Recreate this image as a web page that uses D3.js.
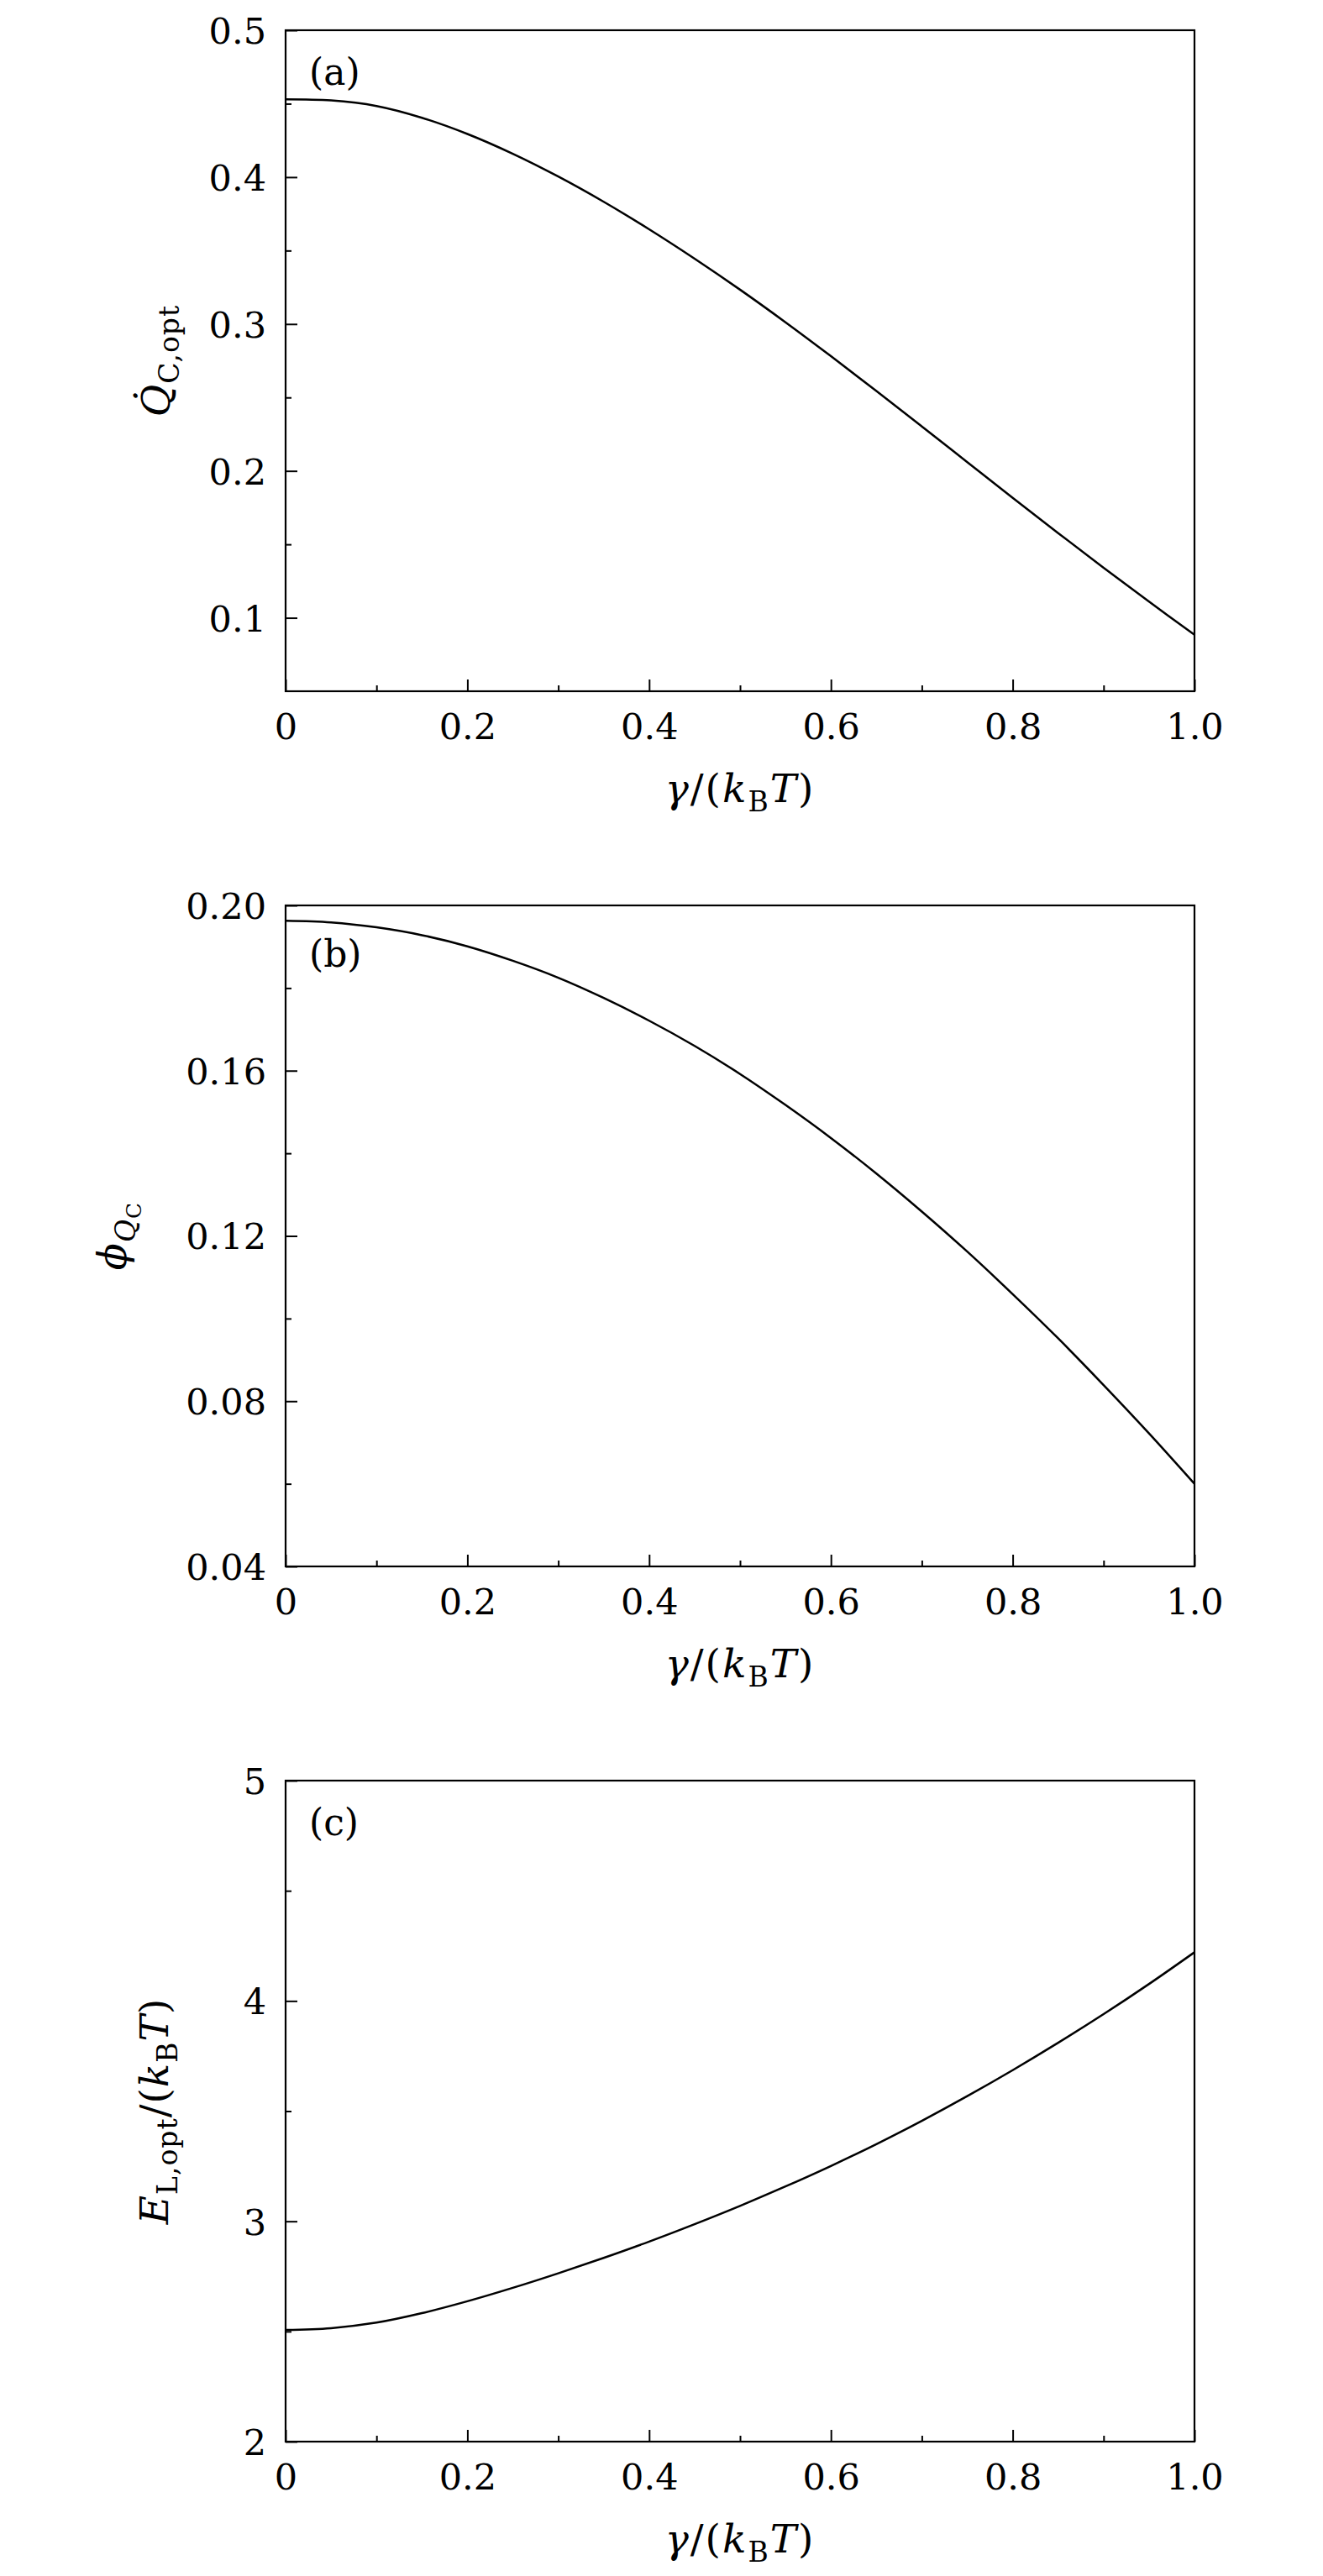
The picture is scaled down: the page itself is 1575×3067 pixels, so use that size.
<!DOCTYPE html>
<html>
<head>
<meta charset="utf-8">
<script src="https://cdn.jsdelivr.net/npm/d3@7"></script>
<style>
body { margin: 0; background: #fff; }
text { font-family: "DejaVu Serif", serif; fill: #000; }
</style>
</head>
<body>
<script>
var WIDTH = 1575;
var HEIGHT = 3067;
var LEFT = 340;
var PLOT_W = 1082;
var PLOT_H = 787;
var TOPS = [36, 1078, 2120];

// gamma/(kB T)
var gamma = [0, 0.05, 0.1, 0.15, 0.2, 0.25, 0.3, 0.35, 0.4, 0.45, 0.5,
             0.55, 0.6, 0.65, 0.7, 0.75, 0.8, 0.85, 0.9, 0.95, 1.0];

// (a) Q_C,opt
var qcOpt = [0.4530, 0.4522, 0.4484, 0.4404, 0.4294, 0.4159, 0.4004, 0.3832, 0.3645, 0.3445, 0.3234,
             0.3012, 0.2781, 0.2544, 0.2303, 0.2060, 0.1817, 0.1577, 0.1341, 0.1110, 0.0884];

// (b) phi_Qc
var phiQc = [0.1963, 0.1959, 0.1947, 0.1928, 0.1901, 0.1866, 0.1825, 0.1776, 0.1721, 0.1660, 0.1592,
             0.1517, 0.1437, 0.1351, 0.1259, 0.1162, 0.1059, 0.0952, 0.0839, 0.0722, 0.0600];

// (c) E_L,opt/(kB T)
var eLOpt = [2.507, 2.515, 2.540, 2.583, 2.637, 2.698, 2.764, 2.834, 2.908, 2.987, 3.070,
             3.158, 3.251, 3.350, 3.456, 3.568, 3.686, 3.810, 3.940, 4.077, 4.221];

var xTicks = [0, 0.2, 0.4, 0.6, 0.8, 1.0];
var xMinor = [0.1, 0.3, 0.5, 0.7, 0.9];
var xLabels = ["0", "0.2", "0.4", "0.6", "0.8", "1.0"];

var yDomA = [0.05, 0.5];
var yTicksA = [0.1, 0.2, 0.3, 0.4, 0.5];
var yMinorA = [0.15, 0.25, 0.35, 0.45];
var yLabelsA = ["0.1", "0.2", "0.3", "0.4", "0.5"];

var yDomB = [0.04, 0.20];
var yTicksB = [0.04, 0.08, 0.12, 0.16, 0.20];
var yMinorB = [0.06, 0.10, 0.14, 0.18];
var yLabelsB = ["0.04", "0.08", "0.12", "0.16", "0.20"];

var yDomC = [2, 5];
var yTicksC = [2, 3, 4, 5];
var yMinorC = [2.5, 3.5, 4.5];
var yLabelsC = ["2", "3", "4", "5"];

// title pieces: [text, italic, subscript level]
var xTitle = [["γ", 1, 0], ["/", 0, 0], ["(", 0, 0], ["k", 1, 0], ["B", 0, 1], ["T", 1, 0], [")", 0, 0]];
var yTitleA = [["Q\u0307", 1, 0], ["C,opt", 0, 1]];
var yTitleB = [["ϕ", 1, 0], ["Q", 1, 1], ["C", 0, 2]];
var yTitleC = [["E", 1, 0], ["L,opt", 0, 1], ["/", 0, 0], ["(", 0, 0], ["k", 1, 0], ["B", 0, 1], ["T", 1, 0], [")", 0, 0]];

var panels = [
  { tag: "(a)", values: qcOpt, dom: yDomA, ticks: yTicksA, minor: yMinorA, labels: yLabelsA, title: yTitleA, titleX: 202, tagY: 65 },
  { tag: "(b)", values: phiQc, dom: yDomB, ticks: yTicksB, minor: yMinorB, labels: yLabelsB, title: yTitleB, titleX: 150, tagY: 73 },
  { tag: "(c)", values: eLOpt, dom: yDomC, ticks: yTicksC, minor: yMinorC, labels: yLabelsC, title: yTitleC, titleX: 200, tagY: 65 }
];

var FS = 43;
var SIZES = [47, 33, 25];
var SHIFT = [0, 11, 7];

var svg = d3.select("body")
  .append("svg")
  .attr("width", WIDTH)
  .attr("height", HEIGHT);

svg.append("rect").attr("width", WIDTH).attr("height", HEIGHT).attr("fill", "#fff");

var writeMath = function(textSel, pieces) {
  var level = 0;
  pieces.forEach(function(p) {
    var dy = 0;
    if (p[2] > level) { for (var l = level + 1; l <= p[2]; l++) dy += SHIFT[l]; }
    if (p[2] < level) { for (var l2 = level; l2 > p[2]; l2--) dy -= SHIFT[l2]; }
    level = p[2];
    textSel.append("tspan")
      .attr("dy", dy)
      .style("font-style", p[1] ? "italic" : "normal")
      .style("font-size", SIZES[p[2]] + "px")
      .text(p[0]);
  });
};

var x = d3.scaleLinear().domain([0, 1]).range([0, PLOT_W]);

panels.forEach(function(p, i) {
  var g = svg.append("g").attr("transform", "translate(" + LEFT + "," + TOPS[i] + ")");
  var y = d3.scaleLinear().domain(p.dom).range([PLOT_H, 0]);

  // minor ticks
  g.append("g")
   .attr("transform", "translate(0," + PLOT_H + ")")
   .call(d3.axisBottom(x).tickValues(xMinor).tickSize(-7).tickSizeOuter(0).tickFormat(""));
  g.append("g")
   .call(d3.axisLeft(y).tickValues(p.minor).tickSize(-7).tickSizeOuter(0).tickFormat(""));

  // major ticks
  var xa = g.append("g")
   .attr("transform", "translate(0," + PLOT_H + ")")
   .call(d3.axisBottom(x).tickValues(xTicks).tickSize(-14).tickSizeOuter(0)
         .tickFormat(function(d, k) { return xLabels[k]; }));
  xa.selectAll("text").attr("y", 57).attr("dy", null)
    .style("font-size", FS + "px").style("font-family", "DejaVu Serif");

  var ya = g.append("g")
   .call(d3.axisLeft(y).tickValues(p.ticks).tickSize(-14).tickSizeOuter(0).tickPadding(23)
         .tickFormat(function(d, k) { return p.labels[k]; }));
  ya.selectAll("text").attr("dy", "0.36em")
    .style("font-size", FS + "px").style("font-family", "DejaVu Serif");

  g.selectAll(".domain").remove();
  g.selectAll(".tick line").attr("stroke", "#000").attr("stroke-width", 2);

  // frame
  g.append("rect")
   .attr("width", PLOT_W).attr("height", PLOT_H)
   .attr("fill", "none").attr("stroke", "#000").attr("stroke-width", 2.2);

  // curve
  var line = d3.line()
    .x(function(d, k) { return x(gamma[k]); })
    .y(function(d) { return y(d); })
    .curve(d3.curveCatmullRom.alpha(0.5));
  g.append("path")
   .datum(p.values)
   .attr("d", line)
   .attr("fill", "none")
   .attr("stroke", "#000")
   .attr("stroke-width", 2.5);

  // panel tag
  g.append("text")
   .attr("x", 28).attr("y", p.tagY)
   .style("font-size", "44px")
   .text(p.tag);

  // x title
  var xt = g.append("text")
   .attr("x", PLOT_W / 2).attr("y", PLOT_H + 132)
   .attr("text-anchor", "middle")
   .style("letter-spacing", "2px");
  writeMath(xt, xTitle);

  // y title
  var yt = svg.append("text")
   .attr("transform", "translate(" + p.titleX + "," + (TOPS[i] + PLOT_H / 2) + ") rotate(-90)")
   .attr("text-anchor", "middle")
   .style("letter-spacing", "1px");
  writeMath(yt, p.title);
});
</script>
</body>
</html>
